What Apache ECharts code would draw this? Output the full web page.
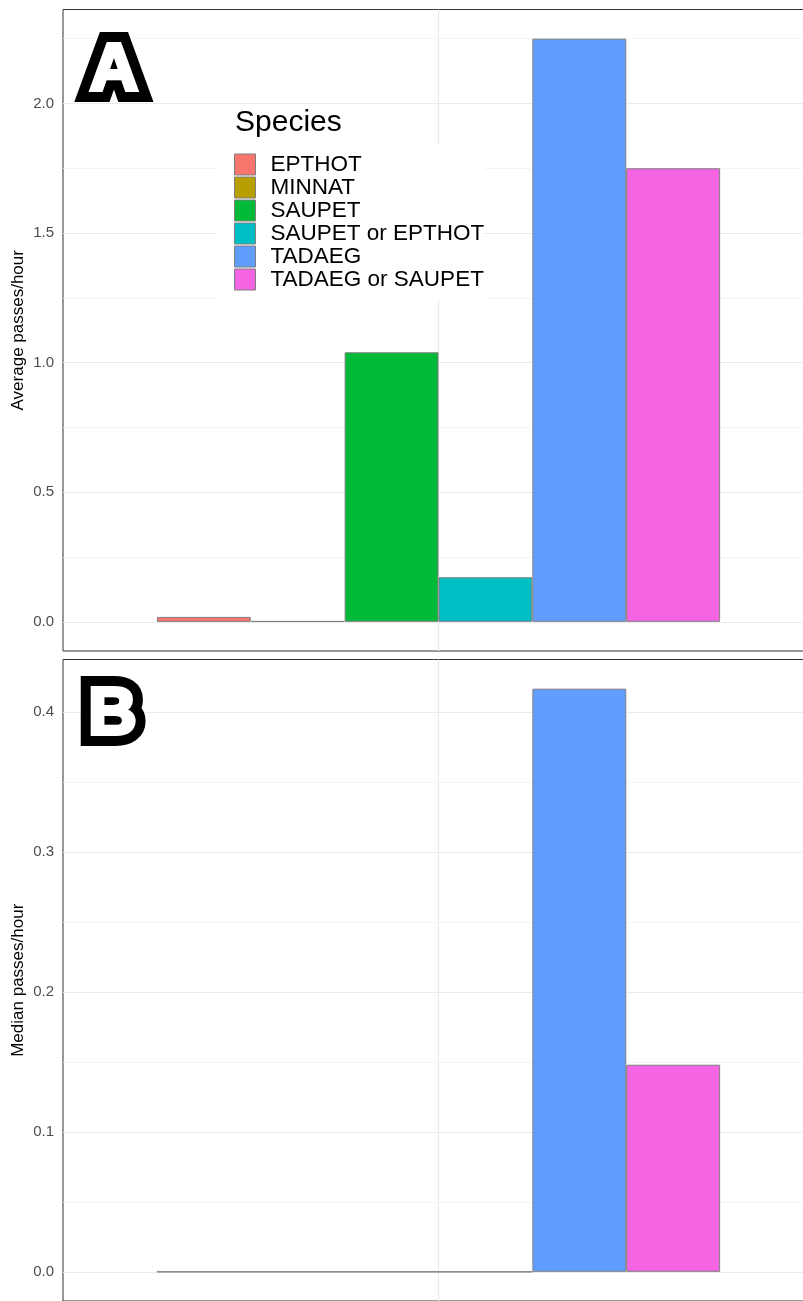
<!DOCTYPE html>
<html><head><meta charset="utf-8">
<script src="https://cdn.jsdelivr.net/npm/echarts@6/dist/echarts.min.js"></script>
<style>html,body{margin:0;padding:0;background:#fff}#c{width:803px;height:1301px}</style>
</head><body><div id="c"></div>
<script>
const species = ['EPTHOT', 'MINNAT', 'SAUPET', 'SAUPET or EPTHOT', 'TADAEG', 'TADAEG or SAUPET'];
const averagePasses = [0.019, 0.003, 1.04, 0.172, 2.25, 1.75];
const medianPasses = [0, 0, 0, 0, 0.4167, 0.148];
const groups = [''];
const averageTicks = [0, 0.5, 1, 1.5, 2];
const averageMinorTicks = [0.25, 0.75, 1.25, 1.75, 2.25];
const medianTicks = [0, 0.1, 0.2, 0.3, 0.4];
const medianMinorTicks = [0.05, 0.15, 0.25, 0.35];
const palette = ['#F8766D', '#B79F00', '#00BA38', '#00BFC4', '#619CFF', '#F564E3'];
const FONT = '"Liberation Sans", Arial, sans-serif';

const chart = echarts.init(document.getElementById('c'), null, {renderer: 'canvas'});
const maxA = Math.max(...averagePasses), maxB = Math.max(...medianPasses);

function yAxis(gridIndex, max, ticks, name) {
  return {
    type: 'value', gridIndex, min: -0.05 * max, max: 1.05 * max,
    name, nameLocation: 'middle', nameRotate: 90, nameGap: 36, nameMoveOverlap: false,
    nameTextStyle: {fontSize: 17, color: '#000', fontFamily: FONT},
    axisLine: {show: false}, splitLine: {show: false},
    axisTick: {show: true, customValues: ticks, length: 4, lineStyle: {color: '#333', width: 1}},
    axisLabel: {customValues: ticks, formatter: v => v.toFixed(1), color: '#4D4D4D', fontSize: 15, fontFamily: FONT, margin: 9}
  };
}
function catAxis(gridIndex) {
  return {type: 'category', gridIndex, data: groups, axisLine: {show: false}, axisTick: {show: false}, axisLabel: {show: false}, splitLine: {show: false}};
}
function vAxis(gridIndex) {
  return {type: 'value', gridIndex, position: 'top', min: -0.6, max: 0.6, interval: 0.6,
    axisLine: {show: false}, axisTick: {show: false}, axisLabel: {show: false},
    splitLine: {show: true, showMinLine: false, showMaxLine: false, lineStyle: {color: '#EBEBEB', width: 1.2}}};
}
function gridLines(xi, yi, major, minor) {
  return {
    type: 'line', xAxisIndex: xi, yAxisIndex: yi, data: [], silent: true,
    markLine: {
      silent: true, symbol: 'none', z: 1, animation: false, label: {show: false},
      data: major.map(v => ({yAxis: v, lineStyle: {color: '#EBEBEB', width: 1.2, type: 'solid'}}))
        .concat(minor.map(v => ({yAxis: v, lineStyle: {color: '#F3F3F3', width: 0.8, type: 'solid'}})))
    }
  };
}
const series = [gridLines(0, 0, averageTicks, averageMinorTicks), gridLines(2, 1, medianTicks, medianMinorTicks)];
species.forEach((s, i) => {
  const style = {color: palette[i], borderColor: '#7F7F7F', borderWidth: 1};
  series.push({type: 'bar', name: s, xAxisIndex: 0, yAxisIndex: 0, data: [averagePasses[i]], itemStyle: style, barGap: '0%', barCategoryGap: '25%', z: 3});
  series.push({type: 'bar', name: s, xAxisIndex: 2, yAxisIndex: 1, data: [medianPasses[i]], itemStyle: style, barGap: '0%', barCategoryGap: '25%', z: 3});
});

function panelLabel(text, x, y) {
  const base = {text, fontSize: 67, fontWeight: 'bold', fontFamily: FONT, align: 'center', verticalAlign: 'middle'};
  return [
    {type: 'text', x, y, z: 10, silent: true, style: Object.assign({}, base, {fill: '#000', stroke: '#000', lineWidth: 24, lineJoin: 'round'})},
    {type: 'text', x, y, z: 11, silent: true, style: Object.assign({}, base, {fill: '#fff', stroke: '#fff', lineWidth: 4, lineJoin: 'round'})}
  ];
}

chart.setOption({
  animation: false,
  backgroundColor: '#fff',
  grid: [
    {left: 63, top: 9.5, width: 751, height: 641.5, outerBoundsMode: 'none', containLabel: false, show: true, backgroundColor: '#fff', borderColor: '#333', borderWidth: 1},
    {left: 63, top: 659.5, width: 751, height: 641.5, outerBoundsMode: 'none', containLabel: false, show: true, backgroundColor: '#fff', borderColor: '#333', borderWidth: 1}
  ],
  xAxis: [catAxis(0), vAxis(0), catAxis(1), vAxis(1)],
  yAxis: [yAxis(0, maxA, averageTicks, 'Average passes/hour'), yAxis(1, maxB, medianTicks, 'Median passes/hour')],
  title: {text: 'Species', left: 235, top: 108, padding: 0, textStyle: {fontSize: 30, fontWeight: 'normal', color: '#000', fontFamily: FONT}},
  legend: {
    data: species, orient: 'vertical', left: 217, top: 145, padding: [8, 0, 9, 17],
    backgroundColor: '#fff', icon: 'rect', itemWidth: 21, itemHeight: 21, itemGap: 0,
    itemStyle: {borderColor: '#7F7F7F', borderWidth: 1}, selectedMode: false,
    textStyle: {fontSize: 22.5, color: '#000', fontFamily: FONT, lineHeight: 23, padding: [0, 0, 0, 10]}
  },
  graphic: panelLabel('A', 114, 72).concat(panelLabel('B', 112.5, 716)),
  series
});
</script></body></html>
